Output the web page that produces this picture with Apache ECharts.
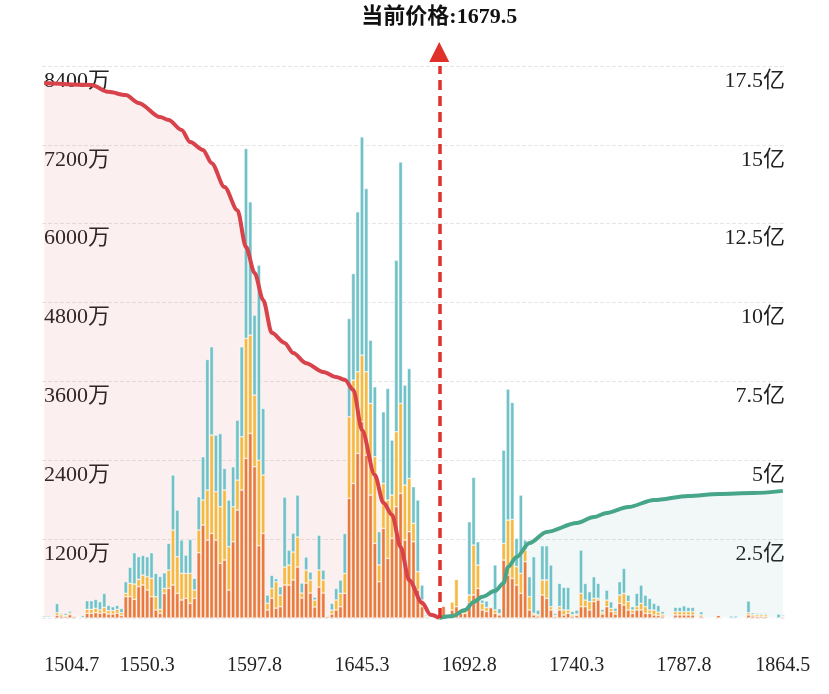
<!DOCTYPE html>
<html>
<head>
<meta charset="utf-8">
<script src="https://cdn.jsdelivr.net/npm/echarts/dist/echarts.min.js"></script>
<style>
html,body{margin:0;padding:0;background:#fff;}
#depth{width:829px;height:694px;}
</style>
</head>
<body>
<div id="depth"></div>
<script>
// price bins (step 1.9), last bin is the max price
const priceStart = 1504.7;
const priceStep = 1.9;
const maxPrice = '1864.5';
const currentPrice = '1679.5';
const labelIdx = [0, 24, 49, 74, 99, 124, 149, 172];

// bar volumes, 万
const orangeVol = [10,10,0,40,30,25,50,20,5,0,71,71,81,71,81,61,61,71,40,325,
  325,284,477,502,426,325,122,71,375,451,502,375,274,299,223,299,994,1415,1186,1288,
  1186,831,882,426,1161,1643,1947,2429,2809,2302,1100,1288,122,300,150,172,502,502,578,776,
  304,532,380,167,471,380,20,60,122,172,375,1820,2048,2505,2986,2479,1871,1136,553,1364,
  908,1212,1693,1896,1186,1313,1161,426,172,15,0,0,0,183,0,120,172,70,70,233,
  350,451,122,100,157,71,46,882,654,603,502,375,857,122,46,30,350,299,122,20,
  122,46,71,30,40,172,172,122,248,274,60,172,96,60,223,198,122,71,122,122,
  71,71,46,40,30,0,0,46,46,46,46,46,0,30,0,0,0,45,0,0,
  0,0,0,0,46,30,25,25,25,0,0,0,15];
const yellowVol = [5,5,0,40,30,15,25,15,5,5,61,61,66,51,81,51,51,61,40,51,
  203,233,112,152,203,279,203,61,76,279,837,558,406,380,456,127,345,380,761,1496,
  735,862,1065,659,532,456,811,1825,1496,1090,1300,887,101,150,400,177,274,304,426,456,
  76,198,198,106,258,198,15,60,152,203,304,1242,1572,1242,1014,1268,1394,1318,254,684,
  887,659,1141,1369,837,811,279,279,101,10,0,0,0,0,0,125,416,0,50,117,
  760,355,101,60,20,51,20,253,837,897,279,304,177,203,25,20,228,279,51,20,
  51,76,51,20,20,203,101,127,51,25,30,101,50,40,127,177,127,51,51,101,
  101,51,76,50,30,0,0,51,51,51,51,51,0,20,0,0,0,0,0,0,
  0,0,0,0,35,25,25,25,25,0,0,0,10];
const tealVol = [20,20,5,140,15,30,30,10,5,30,132,132,137,127,213,81,61,61,66,177,
  243,477,345,299,304,390,355,500,238,406,837,710,507,279,517,178,507,659,1987,1344,
  862,1115,330,710,608,913,1369,2890,2028,1217,2969,1014,127,200,50,127,1064,228,289,639,
  152,198,122,46,532,152,15,103,177,203,608,1496,1622,2434,3321,2789,963,1065,507,1090,
  1698,837,2611,3676,1521,1673,558,1090,228,20,0,0,0,0,0,0,0,0,0,1115,
  1030,355,51,100,0,685,76,1420,1992,1780,431,1191,152,304,862,70,522,522,634,30,
  355,345,345,50,60,659,253,152,330,228,40,152,101,50,203,380,101,51,203,279,
  177,177,101,101,40,0,0,66,66,90,66,66,0,45,0,0,0,0,0,0,
  30,30,0,0,178,25,20,20,20,0,0,60,20];

// cumulative depth, 亿 (bin index -> value)
const bidDepthAt = [0,11,15,19,22,27,29,32,34,37,39,42,45,47,49,51,53,56,58,61,65,68,70,72,74,77,79,81,83,85,88,90,92];
const bidDepth = [16.96,16.9,16.68,16.58,16.33,15.88,15.79,15.47,15.09,14.84,14.42,13.66,12.93,11.76,10.94,10.08,9.04,8.72,8.4,8.08,7.8,7.64,7.55,7.23,5.96,4.53,3.65,3.27,2.25,1.2,0.48,0.1,0];
const askDepthAt = [92,95,98,100,102,105,107,108,110,113,117,124,128,131,136,142,150,157,165,172];
const askDepth = [0,0.06,0.25,0.51,0.67,0.86,1.11,1.62,1.93,2.38,2.73,3.01,3.2,3.33,3.52,3.74,3.87,3.93,3.96,4.03];

const categories = [];
for (let i = 0; i < orangeVol.length; i++) {
    categories.push((priceStart + priceStep * i).toFixed(1));
}
categories[categories.length - 1] = maxPrice;

const zip = (xs, ys) => xs.map((x, k) => [x, ys[k]]);
const bidData = zip(bidDepthAt, bidDepth);
const askData = zip(askDepthAt, askDepth);

const serif = 'Liberation Serif, Times New Roman, Noto Sans CJK SC, serif';

let depthChart = echarts.init(document.getElementById('depth'));
let barItem = { borderColor: '#fff', borderWidth: 0.5 };

var option = {
    animation: false,
    grid: { left: 42, right: 44, top: 66, bottom: 76, outerBoundsMode: 'none' },
    xAxis: {
        type: 'category',
        data: categories,
        axisLine: { show: false },
        axisTick: { show: false },
        axisLabel: {
            interval: (idx) => labelIdx.includes(idx),
            margin: 38,
            fontSize: 20,
            color: '#222',
            fontFamily: serif,
            alignMinLabel: 'left'
        }
    },
    yAxis: [{
        type: 'value',
        min: 0, max: 8400, interval: 1200,
        axisLine: { show: false },
        axisTick: { show: false },
        splitLine: { lineStyle: { color: '#e6e6e6', type: 'dashed' } },
        axisLabel: {
            inside: true,
            showMinLabel: false,
            margin: 2,
            verticalAlign: 'top',
            padding: [4, 0, 0, 0],
            fontSize: 22,
            color: '#222',
            fontFamily: serif,
            formatter: v => v + '万'
        }
    }, {
        type: 'value',
        min: 0, max: 17.5, interval: 2.5,
        axisLine: { show: false },
        axisTick: { show: false },
        splitLine: { show: false },
        axisLabel: {
            inside: true,
            showMinLabel: false,
            margin: 0,
            verticalAlign: 'top',
            padding: [4, 0, 0, 0],
            fontSize: 22,
            color: '#222',
            fontFamily: serif,
            formatter: v => v + '亿'
        }
    }],
    series: [
        {
            name: 'bidArea', type: 'line', yAxisIndex: 1, data: bidData,
            smooth: 0.3, smoothMonotone: 'x', symbol: 'none', z: 1,
            lineStyle: { width: 0 },
            areaStyle: { color: 'rgba(217,67,74,0.12)' }
        },
        {
            name: 'askArea', type: 'line', yAxisIndex: 1, data: askData,
            smooth: 0.3, smoothMonotone: 'x', symbol: 'none', z: 1,
            lineStyle: { width: 0 },
            areaStyle: { color: 'rgba(72,158,150,0.1)' }
        },
        { name: 'a', type: 'bar', stack: 'v', data: orangeVol, barCategoryGap: '12%', z: 2, itemStyle: Object.assign({ color: '#ea7a3c' }, barItem) },
        { name: 'b', type: 'bar', stack: 'v', data: yellowVol, z: 2, itemStyle: Object.assign({ color: '#f5b840' }, barItem) },
        { name: 'c', type: 'bar', stack: 'v', data: tealVol, z: 2, itemStyle: Object.assign({ color: '#70c2c8' }, barItem) },
        {
            name: 'bid', type: 'line', yAxisIndex: 1, data: bidData,
            smooth: 0.3, smoothMonotone: 'x', symbol: 'none', z: 4,
            lineStyle: { color: '#d8434b', width: 4 }
        },
        {
            name: 'ask', type: 'line', yAxisIndex: 1, data: askData,
            smooth: 0.3, smoothMonotone: 'x', symbol: 'none', z: 4,
            lineStyle: { color: '#47a689', width: 4 },
            markLine: {
                silent: true,
                symbol: ['none', 'triangle'],
                symbolSize: [20, 20],
                lineStyle: { color: '#e0302a', width: 3.5, type: [10, 6] },
                label: {
                    position: 'end',
                    distance: 38,
                    formatter: '当前价格:' + currentPrice,
                    fontSize: 22,
                    fontWeight: 'bold',
                    color: '#111',
                    fontFamily: serif
                },
                data: [[
                    { coord: [currentPrice, 0] },
                    { coord: [currentPrice, 17.5], symbolOffset: [0, -14] }
                ]]
            }
        }
    ]
};

depthChart.setOption(option);
window.onresize = function () {
    depthChart.resize();
};
</script>
</body>
</html>
